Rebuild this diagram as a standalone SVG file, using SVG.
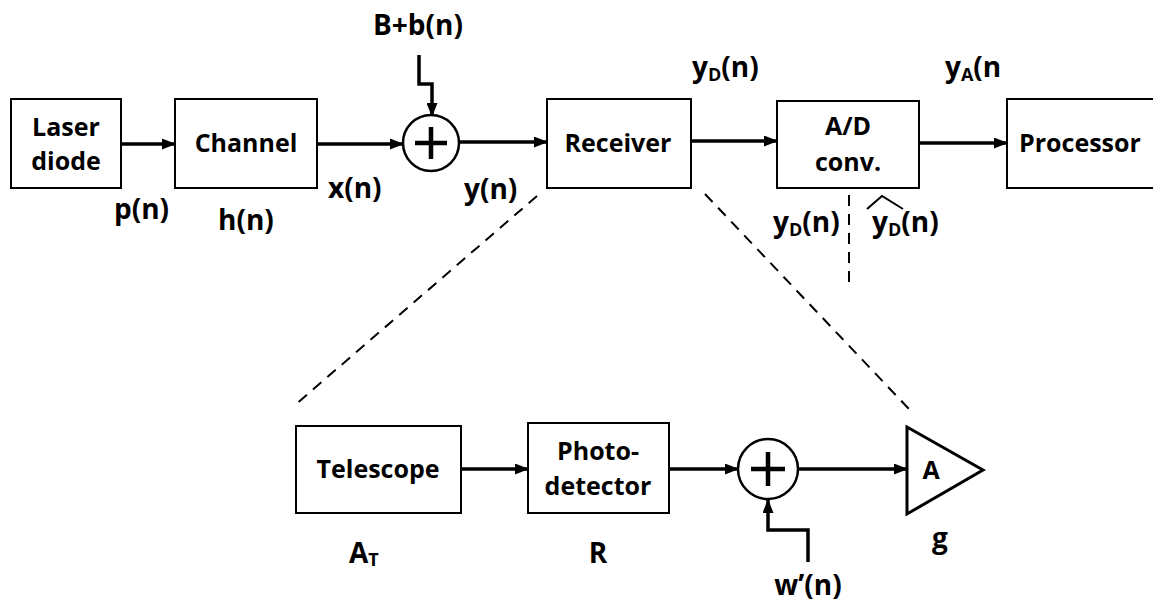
<svg xmlns="http://www.w3.org/2000/svg" width="1153" height="605" viewBox="0 0 1153 605">
<defs>
<marker id="ah" markerWidth="14" markerHeight="11" refX="13" refY="5.5" orient="auto" markerUnits="userSpaceOnUse">
<path d="M0,0 L14,5.5 L0,11 Z" fill="#000"/>
</marker>
<style>
.box{fill:#fff;stroke:#000;stroke-width:2}
.t{font-family:"Open Sans","Liberation Sans",sans-serif;font-weight:bold;font-size:25px;fill:#000}
.l{font-size:28px}
.m{text-anchor:middle}
.w{fill:none;stroke:#000;stroke-width:3.5}
.d{fill:none;stroke:#000;stroke-width:2;stroke-dasharray:11,8}
.sub{font-size:18px}
</style>
</defs>
<rect width="1153" height="605" fill="#fff"/>
<g id="connectors">
<line class="w" x1="121" y1="144" x2="175" y2="144" marker-end="url(#ah)"/>
<line class="w" x1="317" y1="144" x2="403" y2="144" marker-end="url(#ah)"/>
<polyline class="w" points="419,55 419,84 432,84 432,116" marker-end="url(#ah)"/>
<line class="w" x1="458" y1="142" x2="547" y2="142" marker-end="url(#ah)"/>
<line class="w" x1="691" y1="141" x2="777" y2="141" marker-end="url(#ah)"/>
<line class="w" x1="919" y1="143" x2="1007" y2="143" marker-end="url(#ah)"/>
<line class="w" x1="461" y1="469" x2="528" y2="469" marker-end="url(#ah)"/>
<line class="w" x1="669" y1="469" x2="738" y2="469" marker-end="url(#ah)"/>
<line class="w" x1="798" y1="469" x2="907" y2="469" marker-end="url(#ah)"/>
<polyline class="w" points="808,562 808,530 768,530 768,500" marker-end="url(#ah)"/>
<line class="d" x1="537" y1="196" x2="295" y2="405"/>
<line class="d" x1="705" y1="194" x2="909" y2="409"/>
<line class="d" x1="849" y1="195" x2="849" y2="283"/>
</g>
<g id="laser">
<rect class="box" x="11" y="99" width="110" height="89"/>
<text class="t m" x="66" y="136">Laser</text>
<text class="t m" x="66" y="170">diode</text>
</g>
<g id="channel">
<rect class="box" x="175" y="99" width="142" height="89"/>
<text class="t m" x="246" y="152">Channel</text>
</g>
<g id="sum1">
<circle cx="431" cy="143" r="28" fill="#fff" stroke="#000" stroke-width="2.5"/>
<path d="M431,127 V159 M415,143 H447" stroke="#000" stroke-width="4.5"/>
</g>
<g id="receiver">
<rect class="box" x="547" y="99" width="144" height="89"/>
<text class="t m" x="618" y="152">Receiver</text>
</g>
<g id="adc">
<rect class="box" x="777" y="101" width="142" height="87"/>
<text class="t m" x="848" y="135">A/D</text>
<text class="t m" x="848" y="171">conv.</text>
</g>
<g id="processor">
<rect class="box" x="1007" y="99" width="160" height="89"/>
<text class="t" x="1019" y="152">Processor</text>
</g>
<g id="telescope">
<rect class="box" x="296" y="426" width="165" height="87"/>
<text class="t m" x="378" y="478">Telescope</text>
</g>
<g id="photodetector">
<rect class="box" x="528" y="423" width="141" height="90"/>
<text class="t m" x="598" y="460">Photo-</text>
<text class="t m" x="598" y="495">detector</text>
</g>
<g id="sum2">
<circle cx="768" cy="469" r="30" fill="#fff" stroke="#000" stroke-width="2.5"/>
<path d="M768,452 V486 M751,469 H785" stroke="#000" stroke-width="4.5"/>
</g>
<g id="amplifier">
<polygon points="907,427 907,514 983,470" fill="#fff" stroke="#000" stroke-width="3"/>
<text class="t m" x="931" y="479">A</text>
</g>
<g id="labels">
<text class="t l m" x="418" y="35">B+b(n)</text>
<text class="t l" x="114" y="219">p(n)</text>
<text class="t l" x="218" y="230">h(n)</text>
<text class="t l" x="328" y="198">x(n)</text>
<text class="t l" x="464" y="199">y(n)</text>
<text class="t l" x="692" y="77">y<tspan class="sub" dy="4">D</tspan><tspan dy="-4">(n)</tspan></text>
<text class="t l" x="945" y="77">y<tspan class="sub" dy="4">A</tspan><tspan dy="-4">(n</tspan></text>
<text class="t l" x="773" y="232">y<tspan class="sub" dy="4">D</tspan><tspan dy="-4">(n)</tspan></text>
<text class="t l" x="872" y="232">y<tspan class="sub" dy="4">D</tspan><tspan dy="-4">(n)</tspan></text>
<polyline points="867,209 882,196 903,209" fill="none" stroke="#000" stroke-width="2"/>
<text class="t l" x="349" y="563">A<tspan class="sub" dy="3">T</tspan></text>
<text class="t l m" x="598" y="563">R</text>
<text class="t l m" x="940" y="548">g</text>
<text class="t l m" x="808" y="595">w’(n)</text>
</g>
</svg>
